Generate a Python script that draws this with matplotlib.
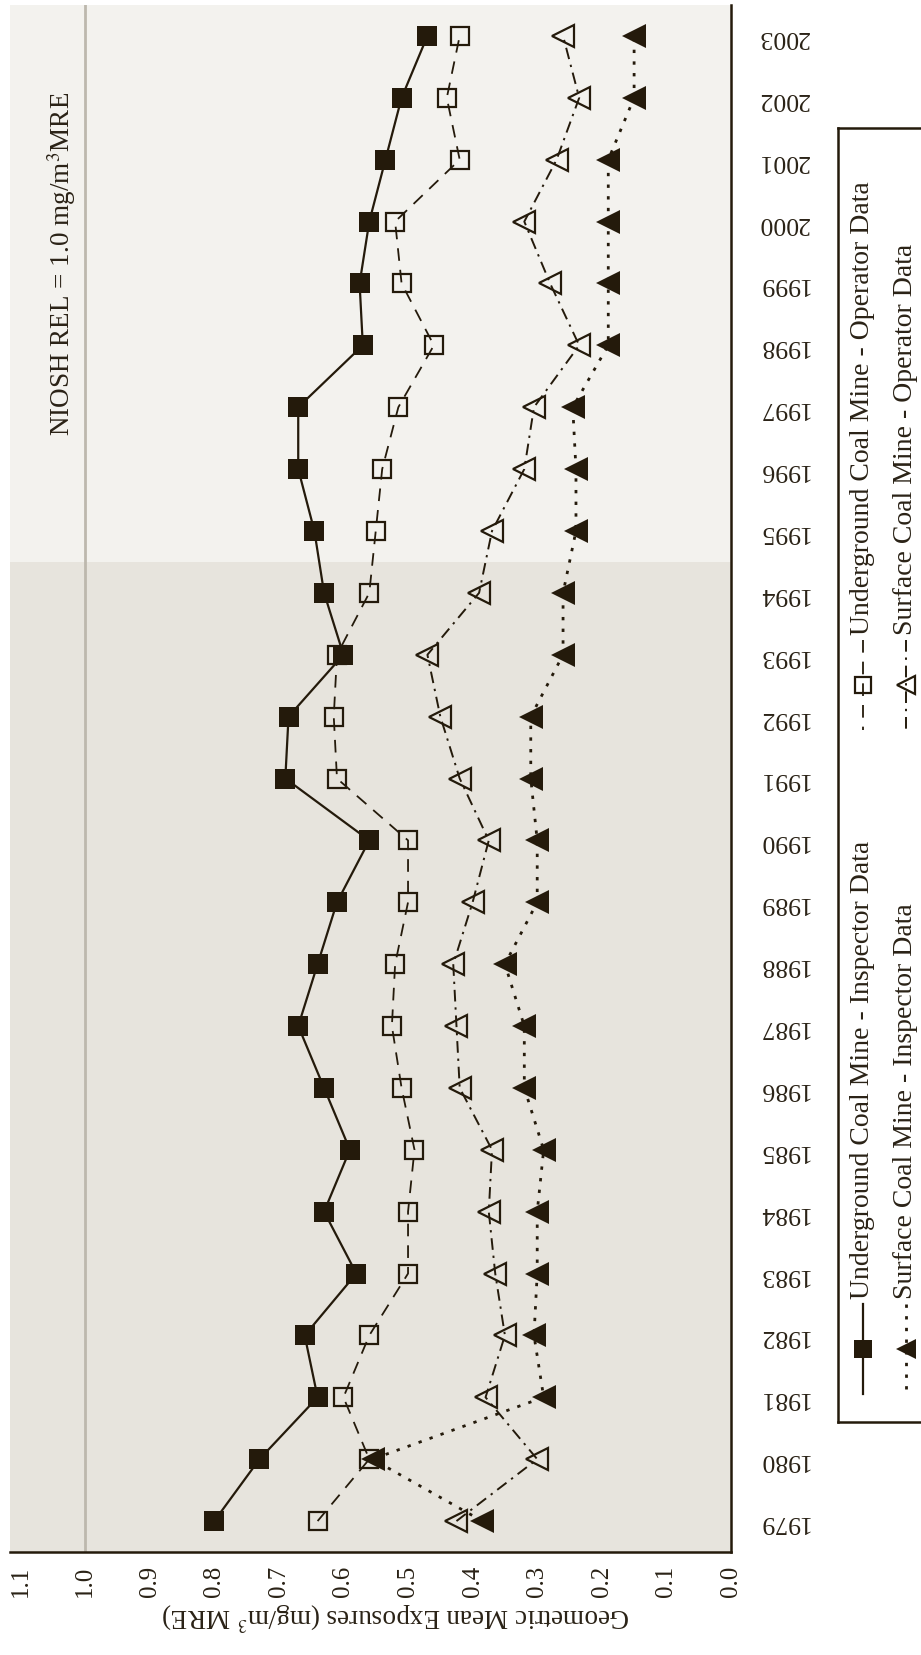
import matplotlib
matplotlib.use("Agg")
import matplotlib.pyplot as plt

plt.rcParams['font.family'] = ['Liberation Serif', 'DejaVu Serif']
plt.rcParams['mathtext.fontset'] = 'stix'

# ---------------- data ----------------
years = list(range(1979, 2004))
year_labels = [str(y) for y in years]
value_ticks = [0.0, 0.1, 0.2, 0.3, 0.4, 0.5, 0.6, 0.7, 0.8, 0.9, 1.0, 1.1]
value_labels = ["%.1f" % v for v in value_ticks]

ug_inspector = [0.80, 0.73, 0.64, 0.66, 0.58, 0.63, 0.59, 0.63, 0.67, 0.64, 0.61, 0.56, 0.69,
                0.685, 0.60, 0.63, 0.645, 0.67, 0.67, 0.57, 0.575, 0.56, 0.535, 0.51, 0.47]
ug_operator = [0.64, 0.56, 0.60, 0.56, 0.50, 0.50, 0.49, 0.51, 0.525, 0.52, 0.50, 0.50, 0.61,
               0.615, 0.61, 0.56, 0.55, 0.54, 0.515, 0.46, 0.51, 0.52, 0.42, 0.44, 0.42]
sf_inspector = [0.385, 0.555, 0.29, 0.305, 0.30, 0.30, 0.29, 0.32, 0.32, 0.35, 0.30, 0.30, 0.31,
                0.31, 0.26, 0.26, 0.24, 0.24, 0.245, 0.19, 0.19, 0.19, 0.19, 0.15, 0.15]
sf_operator = [0.425, 0.30, 0.38, 0.35, 0.365, 0.375, 0.37, 0.42, 0.425, 0.43, 0.40, 0.375, 0.42,
               0.45, 0.47, 0.39, 0.37, 0.32, 0.305, 0.235, 0.28, 0.32, 0.27, 0.235, 0.26]

rel_value = 1.0
period_split = 1994.5

labels = ["Underground Coal Mine - Inspector Data",
          "Surface Coal Mine - Inspector Data",
          "Underground Coal Mine - Operator Data",
          "Surface Coal Mine - Operator Data"]

# ---------------- style ----------------
INK = '#241a0b'
TXT = '#2a2216'
DARK_BG = '#e7e4dd'
LIGHT_BG = '#f3f2ee'
W, H = 921, 1656

fig = plt.figure(figsize=(W / 100, H / 100), dpi=100)
fig.patch.set_facecolor('white')

ax = fig.add_axes([9.5 / W, (H - 1553) / H, (731 - 9.5) / W, (1553 - 6) / H])
ax.set_xlim(1.117, 0.0)
ax.set_ylim(1978.5, 2003.5)
ax.set_facecolor('white')

ax.axhspan(1978.5, period_split, color=DARK_BG, zorder=0, lw=0)
ax.axhspan(period_split, 2003.5, color=LIGHT_BG, zorder=0, lw=0)
ax.axvline(rel_value, color='#bdb8ad', lw=2.0, zorder=1)

styles = [
    dict(ls='-', lw=1.6, marker='s', ms=15, mfc=INK, mec=INK, mew=0),
    dict(ls=(0, (1.2, 3.0)), lw=2.0, marker='<', ms=17, mfc=INK, mec=INK, mew=0),
    dict(ls=(0, (7, 5)), lw=1.3, marker='s', ms=13.5, mfc='none', mec=INK, mew=1.6),
    dict(ls=(0, (6, 3, 1.2, 3)), lw=1.4, marker='<', ms=16, mfc='none', mec=INK, mew=1.6),
]
series = [ug_inspector, sf_inspector, ug_operator, sf_operator]
for vals, st in zip(series, styles):
    ax.plot(vals, years, color=INK, zorder=3, **st)

# spines
for s in ['top', 'left']:
    ax.spines[s].set_visible(False)
for s in ['bottom', 'right']:
    ax.spines[s].set_color(INK)
    ax.spines[s].set_linewidth(1.8)

ax.yaxis.tick_right()
ax.set_yticks(years)
ax.set_yticklabels(year_labels)
ax.set_xticks(value_ticks)
ax.set_xticklabels(value_labels)
ax.tick_params(axis='y', length=0, pad=19, labelsize=18.5, labelcolor=TXT, labelrotation=180)
ax.tick_params(axis='x', length=0, pad=9, labelsize=18, labelcolor=TXT, labelrotation=90)
for t in ax.get_yticklabels():
    t.set_va('center')

ax.text(1.036, 1999.33, r'NIOSH REL = 1.0 mg/m$^3$MRE', rotation=90, ha='center', va='center',
        fontsize=19.5, color=TXT, zorder=4)

fig.text(396 / W, 1 - 1616 / H, r'Geometric Mean Exposures (mg/m$^3$ MRE)', rotation=180,
         ha='center', va='center', fontsize=19.5, color=TXT)

# ---------------- legend (rotated, built by hand) ----------------
lx0, lx1, ly_top, ly_bot = 838, 960, 129, 1423
lax = fig.add_axes([lx0 / W, (H - ly_bot) / H, (lx1 - lx0) / W, (ly_bot - ly_top) / H])
lax.set_xlim(lx0, lx1)
lax.set_ylim(ly_bot, ly_top)
lax.set_facecolor('white')
for s in ['top', 'left', 'bottom', 'right']:
    lax.spines[s].set_color(INK)
    lax.spines[s].set_linewidth(1.8)
lax.set_xticks([])
lax.set_yticks([])

col_x = [862.7, 906]
row_centre = [1350, 686]
half = 45
text_gap = 51
for i, (lab, st) in enumerate(zip(labels, styles)):
    row = i // 2
    col = i % 2
    x = col_x[col]
    yc = row_centre[row]
    lst = dict(st)
    mk = dict(marker=lst.pop('marker'), ms=lst.pop('ms') * 0.85, mfc=lst.pop('mfc'),
              mec=lst.pop('mec'), mew=lst.pop('mew'))
    lax.plot([x, x], [yc - half, yc + half], color=INK, **lst)
    lax.plot([x], [yc], ls='none', color=INK, **mk)
    lax.text(x, yc - text_gap, lab, rotation=90, ha='center', va='bottom', fontsize=20,
             color=TXT)

fig.savefig('out.png', dpi=100)
